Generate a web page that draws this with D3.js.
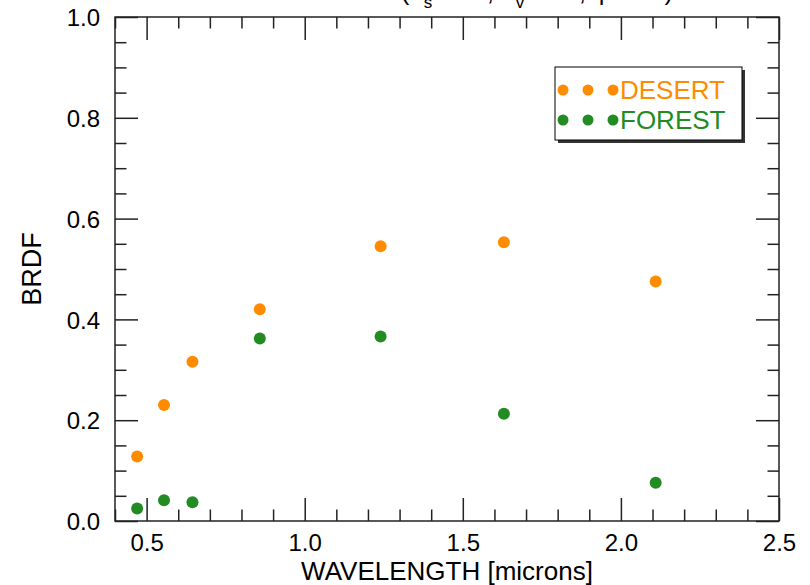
<!DOCTYPE html>
<html>
<head>
<meta charset="utf-8">
<script src="https://cdn.jsdelivr.net/npm/d3@7/dist/d3.min.js"></script>
<style>
  html, body { margin: 0; padding: 0; background: #fff; }
  svg { display: block; font-family: "Liberation Sans", Arial, Helvetica, sans-serif; }
</style>
</head>
<body>
<svg id="chart" width="810" height="585"></svg>
<script>
// Wavelengths of the reflectance bands (microns)
const wavelengths = [0.47, 0.555, 0.645, 0.858, 1.24, 1.63, 2.11];
// BRDF values per surface type
const desert = [0.128, 0.230, 0.316, 0.420, 0.545, 0.553, 0.475];
const forest = [0.025, 0.041, 0.037, 0.362, 0.366, 0.213, 0.076];
const seriesNames = ["DESERT", "FOREST"];
const seriesColors = ["#ff8c00", "#228b22"];
// Axis tick values
const xMajor = [0.5, 1.0, 1.5, 2.0, 2.5];
const yMajor = [0.0, 0.2, 0.4, 0.6, 0.8, 1.0];

const svg = d3.select("#chart");
const m = { left: 115, right: 779, top: 17, bottom: 521 };
const x = d3.scaleLinear().domain([0.4, 2.5]).range([m.left, m.right]);
const y = d3.scaleLinear().domain([0, 1]).range([m.bottom, m.top]);

const xMinor = d3.range(4, 26).map(d => d / 10).filter(v => !xMajor.some(t => Math.abs(t - v) < 1e-6));
const yMinor = d3.range(0, 21).map(d => d / 20).filter(v => !yMajor.some(t => Math.abs(t - v) < 1e-6));

const MAJ = 23, MIN = 11.5;
const fmt = d3.format(".1f");
const axisColor = "#222";
const tickFont = 24;

function styleAxis(g) {
  g.select(".domain").remove();
  g.selectAll(".tick line").attr("stroke", axisColor).attr("stroke-width", 1.5);
  g.selectAll(".tick text").attr("fill", "#000").attr("font-size", tickFont);
}

// bottom axis: labels + inward ticks
svg.append("g").attr("transform", `translate(0,${m.bottom})`)
  .call(d3.axisBottom(x).tickValues(xMajor).tickSize(-MAJ).tickPadding(0).tickFormat(fmt))
  .call(styleAxis)
  .call(g => g.selectAll(".tick text").attr("y", 30).attr("dy", 0));
svg.append("g").attr("transform", `translate(0,${m.bottom})`)
  .call(d3.axisBottom(x).tickValues(xMinor).tickSize(-MIN).tickFormat(""))
  .call(styleAxis);
// top axis: ticks only
svg.append("g").attr("transform", `translate(0,${m.top})`)
  .call(d3.axisTop(x).tickValues(xMajor).tickSize(-MAJ).tickFormat(""))
  .call(styleAxis);
svg.append("g").attr("transform", `translate(0,${m.top})`)
  .call(d3.axisTop(x).tickValues(xMinor).tickSize(-MIN).tickFormat(""))
  .call(styleAxis);
// left axis: labels + inward ticks
svg.append("g").attr("transform", `translate(${m.left},0)`)
  .call(d3.axisLeft(y).tickValues(yMajor).tickSize(-MAJ).tickFormat(fmt))
  .call(styleAxis)
  .call(g => g.selectAll(".tick text").attr("x", -15).attr("dy", "0.36em"));
svg.append("g").attr("transform", `translate(${m.left},0)`)
  .call(d3.axisLeft(y).tickValues(yMinor).tickSize(-MIN).tickFormat(""))
  .call(styleAxis);
// right axis: ticks only
svg.append("g").attr("transform", `translate(${m.right},0)`)
  .call(d3.axisRight(y).tickValues(yMajor).tickSize(-MAJ).tickFormat(""))
  .call(styleAxis);
svg.append("g").attr("transform", `translate(${m.right},0)`)
  .call(d3.axisRight(y).tickValues(yMinor).tickSize(-MIN).tickFormat(""))
  .call(styleAxis);

// plot frame
svg.append("rect")
  .attr("x", m.left).attr("y", m.top)
  .attr("width", m.right - m.left).attr("height", m.bottom - m.top)
  .attr("fill", "none").attr("stroke", axisColor).attr("stroke-width", 1.5);

// axis titles
svg.append("text")
  .attr("x", (m.left + m.right) / 2).attr("y", 579.5)
  .attr("text-anchor", "middle").attr("font-size", 26)
  .text("WAVELENGTH [microns]");
svg.append("text")
  .attr("transform", `translate(41,${(m.top + m.bottom) / 2}) rotate(-90)`)
  .attr("text-anchor", "middle").attr("font-size", 27)
  .text("BRDF");

// plot title (runs off the top edge)
const title = svg.append("text")
  .attr("x", 537).attr("y", 0)
  .attr("text-anchor", "middle").attr("font-size", 26);
title.append("tspan").text("(θ");
title.append("tspan").attr("dy", 8).attr("font-size", 17).text("s");
title.append("tspan").attr("dy", -8).text("=45°, θ");
title.append("tspan").attr("dy", 8).attr("font-size", 17).text("v");
title.append("tspan").attr("dy", -8).text("=30°, φ=90°)");

// data points
const series = [desert, forest];
series.forEach((vals, i) => {
  svg.append("g").selectAll("circle")
    .data(wavelengths.map((w, j) => ({ w, v: vals[j] })))
    .join("circle")
    .attr("cx", d => x(d.w))
    .attr("cy", d => y(d.v))
    .attr("r", 6)
    .attr("fill", seriesColors[i]);
});

// legend with drop shadow
const lg = { x: 555, y: 67, w: 187, h: 73 };
svg.append("rect")
  .attr("x", lg.x + 3).attr("y", lg.y + 3).attr("width", lg.w).attr("height", lg.h)
  .attr("fill", "#333");
svg.append("rect")
  .attr("x", lg.x).attr("y", lg.y).attr("width", lg.w).attr("height", lg.h)
  .attr("fill", "#fff").attr("stroke", "#000").attr("stroke-width", 1);
seriesNames.forEach((name, i) => {
  const cy = 90 + i * 30;
  [563, 588, 613].forEach(cx => {
    svg.append("circle").attr("cx", cx).attr("cy", cy).attr("r", 5.5).attr("fill", seriesColors[i]);
  });
  svg.append("text")
    .attr("x", 620).attr("y", cy + 9)
    .attr("font-size", 26).attr("fill", seriesColors[i])
    .text(name);
});
</script>
</body>
</html>
